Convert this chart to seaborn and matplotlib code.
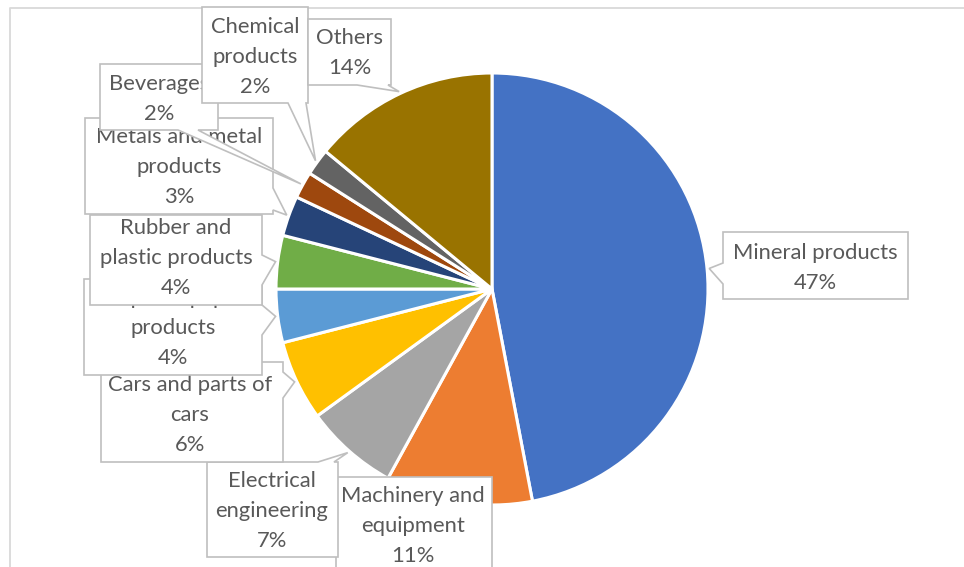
import matplotlib
matplotlib.use("Agg")
import matplotlib.pyplot as plt
from matplotlib.patches import Polygon
from matplotlib.lines import Line2D
import numpy as np
import seaborn as sns

# Export structure by product group (share of total, %)
categories = ["Mineral products", "Machinery and equipment", "Electrical engineering",
              "Cars and parts of cars", "Pulp and paper products",
              "Rubber and plastic products", "Metals and metal products",
              "Beverages", "Chemical products", "Others"]
shares = [47, 11, 7, 6, 4, 4, 3, 2, 2, 14]
wrapped_names = ["Mineral products", "Machinery and\nequipment", "Electrical\nengineering",
                 "Cars and parts of\ncars", "Pulp and paper\nproducts",
                 "Rubber and\nplastic products", "Metals and metal\nproducts",
                 "Beverages", "Chemical\nproducts", "Others"]
colors = ["#4472C4", "#ED7D31", "#A5A5A5", "#FFC000", "#5B9BD5",
          "#70AD47", "#264478", "#9E480E", "#636363", "#997300"]

sns.set_theme(style="white")
plt.rcParams["font.family"] = ["Lato", "DejaVu Sans"]

W, H = 964, 567
fig = plt.figure(figsize=(W / 100, H / 100), dpi=100)
fig.patch.set_facecolor("white")


def to_fig(px, py):
    return px / W, 1 - py / H


# pie area: centre (492, 289) px, radius 216 px
cx, cy, r = 492, 289, 216
ax = fig.add_axes([(cx - r) / W, (H - (cy + r)) / H, 2 * r / W, 2 * r / H])
wedges, _ = ax.pie(shares, colors=colors, startangle=90, counterclock=False,
                   radius=1.0, wedgeprops=dict(edgecolor="white", linewidth=2.2))
ax.set_xlim(-1, 1)
ax.set_ylim(-1, 1)
ax.set_aspect("equal")
ax.axis("off")

# chart-area frame (top and left edges visible)
frame = Line2D([9.5 / W, 9.5 / W, 1.0], [0.0, 1 - 7.5 / H, 1 - 7.5 / H],
               transform=fig.transFigure, color="#D9D9D9", lw=1.3)
fig.add_artist(frame)

# callout layout: box (x0, y0, x1, y1), pointer side, pointer base, text centre
callouts = [
    ((723, 232, 908, 299), "left", (263, 284), (815.5, 268)),
    ((336, 477, 492, 600), None, None, (413, 526)),
    ((207, 462, 338, 557), "top", (318, 334), (272, 511)),
    ((101, 362, 283, 462), "right", (372, 398), (190, 415)),
    ((84, 279, 262, 375), "right", (305, 335), (173, 328)),
    ((90, 215, 262, 305), "right", (255, 285), (176, 258)),
    ((85, 118, 273, 214), "right", (188, 210), (179, 167)),
    ((100, 64, 218, 130), "bottom", (178, 198), (159, 99)),
    ((202, 7, 308, 103), "bottom", (288, 306), (255, 57)),
    ((308, 19, 391, 85), "bottom", (357, 388), (349.5, 53)),
]


def tip_point(w, rad=1.0):
    mid = np.deg2rad((w.theta1 + w.theta2) / 2)
    dx, dy = ax.transData.transform((rad * np.cos(mid), rad * np.sin(mid)))
    return dx, H - dy


for i, (w, name, pct, (box, side, base, tc)) in enumerate(
        zip(wedges, wrapped_names, shares, callouts)):
    x0, y0, x1, y1 = box
    tx, ty = tip_point(w, 1.01)
    if side == "left":
        pts = [(x0, y0), (x1, y0), (x1, y1), (x0, y1), (x0, base[1]), (tx, ty), (x0, base[0])]
    elif side == "right":
        pts = [(x0, y0), (x1, y0), (x1, base[0]), (tx, ty), (x1, base[1]), (x1, y1), (x0, y1)]
    elif side == "bottom":
        pts = [(x0, y0), (x1, y0), (x1, y1), (base[1], y1), (tx, ty), (base[0], y1), (x0, y1)]
    elif side == "top":
        pts = [(x0, y0), (base[0], y0), (tx, ty), (base[1], y0), (x1, y0), (x1, y1), (x0, y1)]
    else:
        pts = [(x0, y0), (x1, y0), (x1, y1), (x0, y1)]
    poly = Polygon([to_fig(px, py) for px, py in pts], closed=True,
                   transform=fig.transFigure, facecolor="white",
                   edgecolor="#BFBFBF", lw=1.2, zorder=10 + 2 * i)
    fig.add_artist(poly)
    fx, fy = to_fig(*tc)
    fig.text(fx, fy, f"{name}\n{pct}%", ha="center", va="center",
             multialignment="center", fontsize=15.8, color="#595959",
             linespacing=1.6, zorder=11 + 2 * i)

fig.savefig("out.png", dpi=100, facecolor="white")
